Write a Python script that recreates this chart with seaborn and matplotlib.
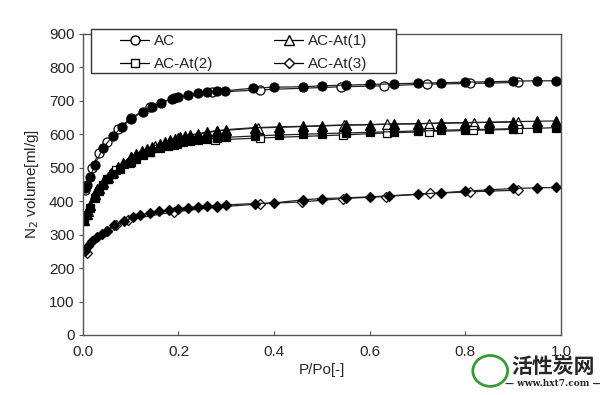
import matplotlib
matplotlib.use("Agg")
import matplotlib.pyplot as plt
from matplotlib.lines import Line2D
from matplotlib.patches import Ellipse, Rectangle
import seaborn as sns
import pandas as pd

# AC (circles): adsorption = filled, desorption = open
ac_ads_x = [0.004, 0.008, 0.015, 0.025, 0.042, 0.063, 0.082, 0.10, 0.125, 0.144, 0.163, 0.186,
            0.20, 0.22, 0.24, 0.26, 0.28, 0.297, 0.356, 0.40, 0.46, 0.50, 0.55, 0.60, 0.65,
            0.70, 0.75, 0.80, 0.85, 0.90, 0.95, 0.99]
ac_ads_y = [440, 448, 472, 508, 559, 595, 622, 645, 667, 682, 694, 706,
            712, 718, 723, 726, 729, 730, 738, 741, 742, 745, 747, 749, 751,
            753, 754, 756, 757, 759, 760, 760]
ac_des_x = [0.91, 0.81, 0.72, 0.63, 0.54, 0.37, 0.27, 0.19, 0.14, 0.10, 0.073, 0.05,
            0.033, 0.02, 0.004]
ac_des_y = [755, 752, 750, 745, 742, 733, 725, 708, 682, 648, 615, 578,
            545, 500, 432]

# AC-At(1) (triangles)
at1_ads_x = [0.003, 0.008, 0.015, 0.025, 0.033, 0.042, 0.052, 0.063, 0.074, 0.084, 0.1, 0.112,
             0.123, 0.134, 0.144, 0.161, 0.172, 0.182, 0.193, 0.203, 0.214, 0.224, 0.24, 0.26,
             0.28, 0.30, 0.36, 0.41, 0.46, 0.50, 0.55, 0.60, 0.65, 0.70, 0.75, 0.80, 0.85,
             0.90, 0.95, 0.99]
at1_ads_y = [345, 362, 388, 420, 440, 457, 472, 487, 502, 515, 531, 541,
             550, 557, 563, 572, 577, 582, 587, 591, 595, 598, 602, 607,
             611, 614, 620, 622, 624, 626, 628, 629, 631, 632, 634, 635, 636,
             638, 639, 640]
at1_des_x = [0.91, 0.818, 0.724, 0.636, 0.546, 0.366, 0.28, 0.2, 0.15, 0.1, 0.06, 0.03, 0.01]
at1_des_y = [637, 635, 632, 630, 627, 619, 610, 590, 566, 531, 483, 435, 372]

# AC-At(2) (squares)
at2_ads_x = [0.003, 0.008, 0.015, 0.025, 0.033, 0.042, 0.052, 0.063, 0.077, 0.098, 0.112,
             0.126, 0.14, 0.161, 0.178, 0.196, 0.21, 0.224, 0.24, 0.26, 0.28, 0.30, 0.36,
             0.41, 0.46, 0.50, 0.55, 0.60, 0.65, 0.70, 0.75, 0.80, 0.85, 0.90, 0.95, 0.99]
at2_ads_y = [342, 358, 380, 410, 430, 448, 465, 480, 497, 514, 526,
             537, 546, 558, 566, 572, 576, 579, 583, 586, 589, 591, 595,
             598, 600, 602, 604, 606, 608, 610, 612, 614, 615, 617, 618, 620]
at2_des_x = [0.91, 0.816, 0.724, 0.636, 0.544, 0.37, 0.276, 0.19, 0.14, 0.1, 0.07, 0.05]
at2_des_y = [615, 612, 608, 604, 598, 589, 583, 568, 546, 516, 492, 465]

# AC-At(3) (diamonds)
at3_ads_x = [0.005, 0.01, 0.02, 0.03, 0.04, 0.05, 0.065, 0.086, 0.105, 0.12, 0.14, 0.16,
             0.18, 0.2, 0.22, 0.24, 0.26, 0.28, 0.30, 0.36, 0.40, 0.46, 0.50, 0.55, 0.60,
             0.64, 0.70, 0.75, 0.80, 0.85, 0.90, 0.95, 0.99]
at3_ads_y = [250, 265, 280, 292, 302, 312, 328, 340, 352, 358, 365, 370,
             374, 378, 381, 384, 386, 387, 389, 393, 395, 404, 408, 410, 413,
             416, 421, 425, 430, 434, 438, 440, 441]
at3_des_x = [0.91, 0.81, 0.726, 0.634, 0.544, 0.458, 0.37, 0.28, 0.19, 0.095, 0.07, 0.05, 0.008]
at3_des_y = [433, 428, 423, 414, 408, 398, 392, 382, 368, 345, 330, 310, 246]

series = [
    ("AC", "o", 6.5, ac_ads_x, ac_ads_y, ac_des_x, ac_des_y),
    ("AC-At(1)", "^", 7, at1_ads_x, at1_ads_y, at1_des_x, at1_des_y),
    ("AC-At(2)", "s", 6, at2_ads_x, at2_ads_y, at2_des_x, at2_des_y),
    ("AC-At(3)", "D", 5, at3_ads_x, at3_ads_y, at3_des_x, at3_des_y),
]

sns.set_style("white")
plt.rcParams['font.family'] = ['Liberation Sans', 'DejaVu Sans']

fig = plt.figure(figsize=(6, 3.95), dpi=100)
ax = fig.add_axes([0.138, 0.152, 0.797, 0.762])

for name, mk, ms, ax_x, ax_y, dx, dy in series:
    ads = pd.DataFrame({"p": ax_x, "v": ax_y})
    des = pd.DataFrame({"p": dx, "v": dy})
    sns.lineplot(data=des, x="p", y="v", ax=ax, sort=False, estimator=None,
                 color="#222222", lw=0.9, marker=mk, markersize=ms,
                 markerfacecolor="white", markeredgecolor="black", markeredgewidth=0.9)
    sns.lineplot(data=ads, x="p", y="v", ax=ax, sort=False, estimator=None,
                 color="#222222", lw=0.9, marker=mk, markersize=ms,
                 markerfacecolor="black", markeredgecolor="black", markeredgewidth=0.9)

ax.set_xlim(0, 1.0)
ax.set_ylim(0, 900)
ax.set_xticks([0.0, 0.2, 0.4, 0.6, 0.8, 1.0])
ax.set_xticklabels(["0.0", "0.2", "0.4", "0.6", "0.8", "1.0"])
ax.set_yticks(range(0, 901, 100))
ax.tick_params(axis="x", direction="in", length=3, pad=7, labelsize=11, color="#555555",
               bottom=True)
ax.tick_params(axis="y", direction="out", length=3, pad=3, labelsize=11, color="#555555",
               left=True)
for sp in ax.spines.values():
    sp.set_color("#555555")
    sp.set_linewidth(1.0)

ax.set_xlabel("P/Po[-]", fontsize=11, labelpad=3)
ax.set_ylabel("N$_2$ volume[ml/g]", fontsize=11, labelpad=6)

# legend: frame drawn separately so the entries can sit where the original has them
fig.patches.append(Rectangle((0.1517, 0.8152), 0.5083, 0.1114, transform=fig.transFigure,
                             facecolor="white", edgecolor="#333333", lw=1.0, zorder=4,
                             figure=fig))
order = [0, 2, 1, 3]
handles = [Line2D([], [], color="black", lw=0.9, marker=series[i][1], markersize=series[i][2],
                  markerfacecolor="white", markeredgecolor="black") for i in order]
labels = [series[i][0] for i in order]
leg = fig.legend(handles, labels, ncol=2, loc="upper left",
                 bbox_to_anchor=(0.2, 0.913), bbox_transform=fig.transFigure,
                 borderpad=0, borderaxespad=0, frameon=False,
                 fontsize=11, handlelength=1.9, handletextpad=0.3,
                 labelspacing=0.58, columnspacing=4.0)
leg.set_zorder(6)

# watermark
fig.patches.append(Ellipse((0.817, 0.061), 0.058, 0.078, transform=fig.transFigure,
                           facecolor="none", edgecolor="#3a9a3a", lw=2, figure=fig))
fig.text(0.922, 0.072, "活性炭网", fontsize=15, fontweight="bold", ha="center", va="center",
         family=["Noto Sans CJK SC", "DejaVu Sans"])
fig.text(0.922, 0.028, "— www.hxt7.com —", fontsize=6.5, fontweight="bold",
         ha="center", va="center", family=["DejaVu Serif"])

fig.savefig("out.png", dpi=100)
